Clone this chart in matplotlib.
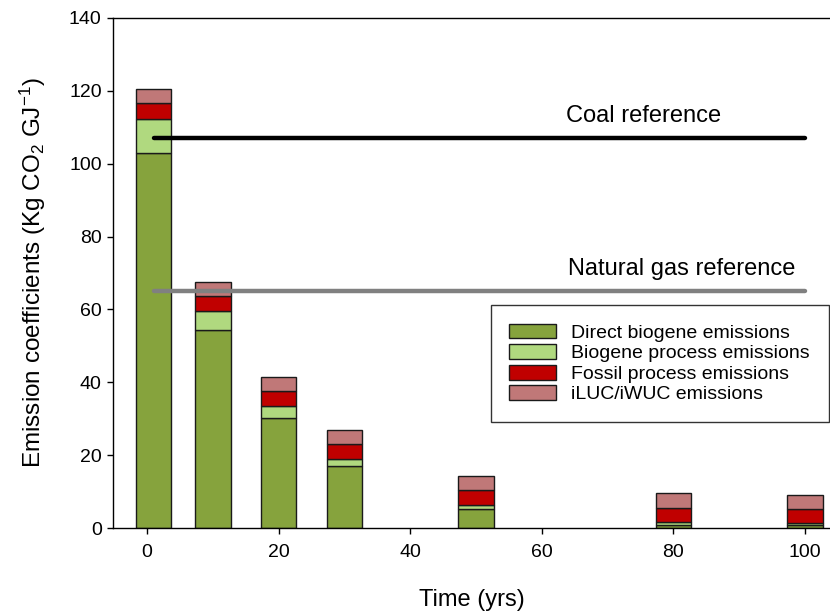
import numpy as np
import matplotlib
matplotlib.use('Agg')
import matplotlib.pyplot as plt

plt.rcParams['font.family'] = ['Liberation Sans', 'DejaVu Sans']
plt.rcParams['mathtext.fontset'] = 'custom'
plt.rcParams['mathtext.rm'] = 'Liberation Sans'
plt.rcParams['mathtext.default'] = 'regular'

# data
years = [1, 10, 20, 30, 50, 80, 100]
direct_bio = [103.0, 54.4, 30.3, 16.9, 5.1, 0.9, 0.7]
bio_process = [9.4, 5.3, 3.1, 2.1, 1.1, 0.8, 0.6]
fossil_process = [4.3, 4.1, 4.3, 4.2, 4.2, 3.9, 3.9]
iluc = [3.8, 3.7, 3.8, 3.8, 3.9, 3.9, 3.9]

series = [direct_bio, bio_process, fossil_process, iluc]
labels = ['Direct biogene emissions', 'Biogene process emissions',
          'Fossil process emissions', 'iLUC/iWUC emissions']
colors = ['#86a33d', '#b0d97f', '#c00000', '#c07878']

coal_ref = 107.0
gas_ref = 65.2

fig = plt.figure(figsize=(8.3, 6.14), dpi=100)
ax = fig.add_axes([0.1367, 0.140, 0.8633, 0.8307])

bottom = np.zeros(len(years))
for vals, lab, col in zip(series, labels, colors):
    ax.bar(years, vals, width=5.4, bottom=bottom, color=col,
           edgecolor='#1a1a1a', linewidth=1.0, label=lab, zorder=2)
    bottom += np.array(vals)

ax.plot([years[0], years[-1]], [coal_ref, coal_ref], color='black',
        lw=3.2, solid_capstyle='round', zorder=3)
ax.plot([years[0], years[-1]], [gas_ref, gas_ref], color='#808080',
        lw=3.2, solid_capstyle='round', zorder=3)
ax.text(63.7, 113, 'Coal reference', fontsize=17, va='center', ha='left')
ax.text(64.0, 71.2, 'Natural gas reference', fontsize=17, va='center', ha='left')

ax.set_xlim(-5.1, 103.8)
ax.set_ylim(0, 140)
ax.set_xticks([0, 20, 40, 60, 80, 100])
ax.set_yticks(range(0, 141, 20))
ax.tick_params(direction='out', length=4.5, width=1, labelsize=14)
ax.tick_params(axis='x', pad=7)
ax.tick_params(axis='y', pad=4)
ax.spines['right'].set_visible(False)
for s in ['left', 'bottom', 'top']:
    ax.spines[s].set_linewidth(1.0)

ax.set_xlabel('Time (yrs)', fontsize=17, labelpad=20)
ax.set_ylabel('Emission coefficients (Kg CO$_2$ GJ$^{-1}$)', fontsize=17.5, labelpad=15)

leg = ax.legend(loc='upper right', bbox_to_anchor=(0.998, 0.437), fontsize=14,
                frameon=True, fancybox=False, edgecolor='black',
                handlelength=2.4, handleheight=0.8, labelspacing=0.12,
                borderpad=0.95, handletextpad=0.8, borderaxespad=0)
leg.get_frame().set_linewidth(1.0)

fig.savefig('out.png', dpi=100)
